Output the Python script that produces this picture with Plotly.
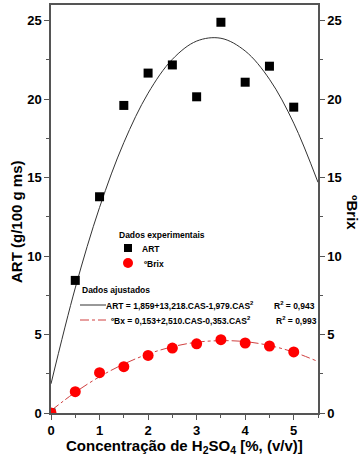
import plotly.graph_objects as go

# ---- data ----
cas = [0, 0.5, 1, 1.5, 2, 2.5, 3, 3.5, 4, 4.5, 5]
art = [0, 8.45, 13.78, 19.6, 21.66, 22.18, 20.15, 24.9, 21.08, 22.1, 19.49]
brix = [0, 1.36, 2.57, 2.95, 3.67, 4.14, 4.41, 4.67, 4.46, 4.27, 3.89]

fit_x = [0, 0.5, 1, 1.5, 2, 2.5, 3, 3.5, 4, 4.5, 5, 5.5]
art_fit = [1.86, 7.97, 13.10, 17.23, 20.38, 22.54, 23.70, 23.88, 23.07, 21.27, 18.47, 14.70]
brix_fit = [0.15, 1.32, 2.31, 3.12, 3.76, 4.22, 4.51, 4.61, 4.55, 4.30, 3.88, 3.28]

x_ticks = [0, 1, 2, 3, 4, 5]
y_ticks = [0, 5, 10, 15, 20, 25]

FONT = "Liberation Sans"
AX = "#555555"

fig = go.Figure()
fig.add_trace(go.Scatter(x=fit_x, y=art_fit, mode="lines", line=dict(color="#333333", width=1, shape="spline"), showlegend=False))
fig.add_trace(go.Scatter(x=fit_x, y=brix_fit, mode="lines", line=dict(color="#d04040", width=1, dash="dashdot", shape="spline"), showlegend=False))
fig.add_trace(go.Scatter(x=cas, y=art, mode="markers", marker=dict(symbol="square", size=9, color="black"), showlegend=False))
fig.add_trace(go.Scatter(x=cas, y=brix, mode="markers", marker=dict(symbol="circle", size=11, color="#ff0000", line=dict(width=0)), showlegend=False, yaxis="y2"))

tickfont = dict(family=FONT, size=13, color="black", weight="bold")
fig.update_layout(
    width=363, height=459,
    margin=dict(l=51, r=45, t=5, b=46),
    plot_bgcolor="white", paper_bgcolor="white",
    xaxis=dict(range=[0, 5.5], tickvals=x_ticks, ticks="outside", ticklen=5, tickcolor=AX,
               showline=True, linecolor=AX, linewidth=1.5, mirror=True, showgrid=False, zeroline=False,
               tickfont=tickfont, automargin=False,
               minor=dict(ticks="outside", ticklen=3, dtick=0.5, tickcolor=AX, showgrid=False)),
    yaxis=dict(range=[0, 26], tickvals=y_ticks, ticks="outside", ticklen=5, tickcolor=AX,
               showline=True, linecolor=AX, linewidth=1.5, showgrid=False, zeroline=False,
               tickfont=tickfont, automargin=False,
               minor=dict(ticks="outside", ticklen=3, dtick=2.5, tickcolor=AX, showgrid=False)),
    yaxis2=dict(range=[0, 26], tickvals=y_ticks, ticks="outside", ticklen=5, tickcolor=AX, overlaying="y", side="right",
                showline=True, linecolor=AX, linewidth=1.5, showgrid=False, zeroline=False,
                tickfont=tickfont, automargin=False,
                minor=dict(ticks="outside", ticklen=3, dtick=2.5, tickcolor=AX, showgrid=False)),
)

titlefont = dict(family=FONT, size=15, color="black")
legfont = dict(family=FONT, size=8.5, color="black")
ann = [
    dict(text="<b>ART (g/100 g ms)</b>", x=16, y=222, textangle=-90, font=titlefont),
    dict(text="<b>ºBrix</b>", x=353, y=212, textangle=90, font=titlefont),
    dict(text="<b>Concentração de H<sub>2</sub>SO<sub>4</sub> [%, (v/v)]</b>", x=184, y=446, textangle=0, font=titlefont),
    dict(text="<b>Dados experimentais</b>", x=162, y=235, textangle=0, font=legfont),
    dict(text="<b>ART</b>", x=151, y=249, textangle=0, font=legfont),
    dict(text="<b>ºBrix</b>", x=154, y=264, textangle=0, font=legfont),
    dict(text="<b>Dados ajustados</b>", x=116, y=290, textangle=0, font=legfont),
    dict(text="<b>ART = 1,859+13,218.CAS-1,979.CAS<sup>2</sup></b>", x=180, y=305, textangle=0, font=legfont),
    dict(text="<b>R<sup>2</sup> = 0,943</b>", x=294, y=305, textangle=0, font=legfont),
    dict(text="<b>ºBx = 0,153+2,510.CAS-0,353.CAS<sup>2</sup></b>", x=181, y=320, textangle=0, font=legfont),
    dict(text="<b>R<sup>2</sup> = 0,993</b>", x=296, y=320, textangle=0, font=legfont),
]
for a in ann:
    fig.add_annotation(text=a["text"], xref="paper", yref="paper",
                       x=(a["x"] - 51) / (318 - 51), y=(413 - a["y"]) / (413 - 5),
                       xanchor="center", yanchor="middle", showarrow=False,
                       textangle=a["textangle"], font=a["font"])

# legend symbols
def px(xp, yp):
    return (xp - 51) / (318 - 51), (413 - yp) / (413 - 5)

x0, y0 = px(124, 244); x1, y1 = px(132, 252)
fig.add_shape(type="rect", xref="paper", yref="paper", x0=x0, y0=y0, x1=x1, y1=y1, fillcolor="black", line=dict(width=0))
x0, y0 = px(123, 258); x1, y1 = px(133, 268)
fig.add_shape(type="circle", xref="paper", yref="paper", x0=x0, y0=y0, x1=x1, y1=y1, fillcolor="#ff0000", line=dict(width=0))
x0, y0 = px(80, 305); x1, _ = px(106, 305)
fig.add_shape(type="line", xref="paper", yref="paper", x0=x0, y0=y0, x1=x1, y1=y0, line=dict(color="#333333", width=1))
x0, y0 = px(80, 320); x1, _ = px(106, 320)
fig.add_shape(type="line", xref="paper", yref="paper", x0=x0, y0=y0, x1=x1, y1=y0, line=dict(color="#d04040", width=1, dash="dashdot"))

fig.write_html("out.html", config={"displayModeBar": False},
               post_script="document.body.style.margin='0';document.body.style.padding='0';")
